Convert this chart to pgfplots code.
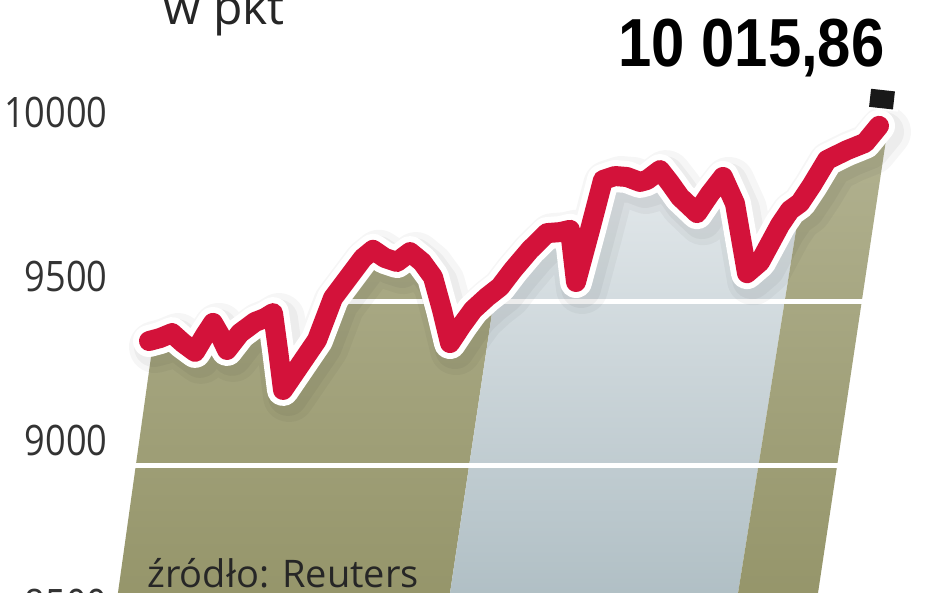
\documentclass[border=0pt]{standalone}
\usepackage{pgfplots}
\pgfplotsset{compat=1.18}
\usepackage{fontspec}
\setmainfont{Open Sans}
\newfontfamily\ticfont{Open Sans}[FakeStretch=0.86]
\newfontfamily\bigfont{Liberation Sans}[FakeStretch=0.88]
\definecolor{olivetop}{RGB}{182,182,150}
\definecolor{olivebot}{RGB}{146,146,102}
\definecolor{bluetop}{RGB}{240,243,245}
\definecolor{bluebot}{RGB}{170,186,192}
\definecolor{linered}{RGB}{211,18,58}
\begin{document}
\begin{tikzpicture}
\useasboundingbox (0,0) rectangle (474pt,296.5pt);
\clip (0,0) rectangle (474pt,296.5pt);
\begin{axis}[
  at={(0pt,-28.34pt)}, anchor=south west,
  x=0.5pt, y=0.164pt,
  xmin=0, xmax=948, ymin=8440, ymax=10430,
  axis on top,
  axis line style={draw=none},
  major tick style={draw=none},
  xtick=\empty,
  ytick={8500,9000,9500,10000},
  yticklabels={8500,9000,9500,10000},
  yticklabel style={font=\ticfont\fontsize{21}{21}\selectfont, text=black!80,
    anchor=south east, inner sep=0pt, xshift=54pt, yshift=5pt},
  clip=true,
]
% bands
\addplot[draw=none, top color=olivetop, bottom color=olivebot]
  coordinates {(110,8440) (441.5,8440) (530,10238) (192.6,10238)} -- cycle;
\addplot[draw=none, top color=bluetop, bottom color=bluebot]
  coordinates {(441.5,8440) (729,8440) (823.3,10238) (530,10238)} -- cycle;
\addplot[draw=none, top color=olivetop, bottom color=olivebot]
  coordinates {(729,8440) (809.5,8440) (898,10238) (823.3,10238)} -- cycle;
% grid lines
\addplot[white, line width=2.5pt] coordinates {(110,9000) (948,9000)};
\addplot[white, line width=2.5pt] coordinates {(110,9500) (948,9500)};
% white region above the line
\addplot[draw=none, fill=white] coordinates {
(140,10500) (140,9381)
(149,9381) (160,9390) (172,9405) (183,9375) (195,9348) (205,9399) (213,9436)
(220,9399) (227,9354) (240,9405) (255,9439) (265,9451) (273,9466) (278,9354)
(283,9232) (300,9308) (317,9384) (333,9512) (348,9573) (363,9634) (373,9659)
(385,9634) (397,9622) (410,9652) (422,9622) (433,9576) (442,9476) (450,9375)
(462,9430) (473,9476) (487,9515) (500,9546) (513,9598) (530,9659) (547,9710)
(560,9713) (570,9720) (576,9561) (590,9720) (603,9872) (615,9884) (627,9881)
(640,9866) (647,9872) (660,9902) (670,9863) (680,9820) (697,9771) (710,9830)
(723,9881) (735,9800) (747,9588) (760,9622) (780,9735) (790,9780) (800,9802)
(812,9857) (827,9933) (847,9963) (865,9985) (879,10037)
(960,10037) (960,10500)} -- cycle;
% soft shadow
\addplot[black, opacity=0.035, line width=26pt, line join=round, line cap=round, xshift=3pt, yshift=-3pt] coordinates {
(149,9381) (160,9390) (172,9405) (183,9375) (195,9348) (205,9399) (213,9436)
(220,9399) (227,9354) (240,9405) (255,9439) (265,9451) (273,9466) (278,9354)
(283,9232) (300,9308) (317,9384) (333,9512) (348,9573) (363,9634) (373,9659)
(385,9634) (397,9622) (410,9652) (422,9622) (433,9576) (442,9476) (450,9375)
(462,9430) (473,9476) (487,9515) (500,9546) (513,9598) (530,9659) (547,9710)
(560,9713) (570,9720) (576,9561) (590,9720) (603,9872) (615,9884) (627,9881)
(640,9866) (647,9872) (660,9902) (670,9863) (680,9820) (697,9771) (710,9830)
(723,9881) (735,9800) (747,9588) (760,9622) (780,9735) (790,9780) (800,9802)
(812,9857) (827,9933) (847,9963) (865,9985) (879,10037)};
\addplot[black, opacity=0.04, line width=20pt, line join=round, line cap=round, xshift=2.5pt, yshift=-3pt] coordinates {
(149,9381) (160,9390) (172,9405) (183,9375) (195,9348) (205,9399) (213,9436)
(220,9399) (227,9354) (240,9405) (255,9439) (265,9451) (273,9466) (278,9354)
(283,9232) (300,9308) (317,9384) (333,9512) (348,9573) (363,9634) (373,9659)
(385,9634) (397,9622) (410,9652) (422,9622) (433,9576) (442,9476) (450,9375)
(462,9430) (473,9476) (487,9515) (500,9546) (513,9598) (530,9659) (547,9710)
(560,9713) (570,9720) (576,9561) (590,9720) (603,9872) (615,9884) (627,9881)
(640,9866) (647,9872) (660,9902) (670,9863) (680,9820) (697,9771) (710,9830)
(723,9881) (735,9800) (747,9588) (760,9622) (780,9735) (790,9780) (800,9802)
(812,9857) (827,9933) (847,9963) (865,9985) (879,10037)};
% white border
\addplot[white, line width=16pt, line join=round, line cap=round] coordinates {
(149,9381) (160,9390) (172,9405) (183,9375) (195,9348) (205,9399) (213,9436)
(220,9399) (227,9354) (240,9405) (255,9439) (265,9451) (273,9466) (278,9354)
(283,9232) (300,9308) (317,9384) (333,9512) (348,9573) (363,9634) (373,9659)
(385,9634) (397,9622) (410,9652) (422,9622) (433,9576) (442,9476) (450,9375)
(462,9430) (473,9476) (487,9515) (500,9546) (513,9598) (530,9659) (547,9710)
(560,9713) (570,9720) (576,9561) (590,9720) (603,9872) (615,9884) (627,9881)
(640,9866) (647,9872) (660,9902) (670,9863) (680,9820) (697,9771) (710,9830)
(723,9881) (735,9800) (747,9588) (760,9622) (780,9735) (790,9780) (800,9802)
(812,9857) (827,9933) (847,9963) (865,9985) (879,10037)};
\addplot[white, line width=17pt] coordinates {(881,10085) (883,10152)};
% red line
\addplot[linered, line width=10pt, line join=round, line cap=round] coordinates {
(149,9381) (160,9390) (172,9405) (183,9375) (195,9348) (205,9399) (213,9436)
(220,9399) (227,9354) (240,9405) (255,9439) (265,9451) (273,9466) (278,9354)
(283,9232) (300,9308) (317,9384) (333,9512) (348,9573) (363,9634) (373,9659)
(385,9634) (397,9622) (410,9652) (422,9622) (433,9576) (442,9476) (450,9375)
(462,9430) (473,9476) (487,9515) (500,9546) (513,9598) (530,9659) (547,9710)
(560,9713) (570,9720) (576,9561) (590,9720) (603,9872) (615,9884) (627,9881)
(640,9866) (647,9872) (660,9902) (670,9863) (680,9820) (697,9771) (710,9830)
(723,9881) (735,9800) (747,9588) (760,9622) (780,9735) (790,9780) (800,9802)
(812,9857) (827,9933) (847,9963) (865,9985) (879,10037)};
% last value in black
\addplot[black!90, line width=12pt, line cap=butt] coordinates {(881,10091) (883,10146)};
\end{axis}
\node[anchor=base west, inner sep=0pt, text=black!85] at (81.5pt,284pt)
  {\fontsize{24}{24}\selectfont w pkt};
\node[anchor=base east, inner sep=0pt, text=black] at (442.5pt,263pt)
  {\bigfont\bfseries\fontsize{34}{34}\selectfont 10 015,86};
\node[anchor=base west, inner sep=0pt, text=black!85] at (73.5pt,2.5pt)
  {\fontsize{19}{19}\selectfont źródło: Reuters};
\end{tikzpicture}
\end{document}
